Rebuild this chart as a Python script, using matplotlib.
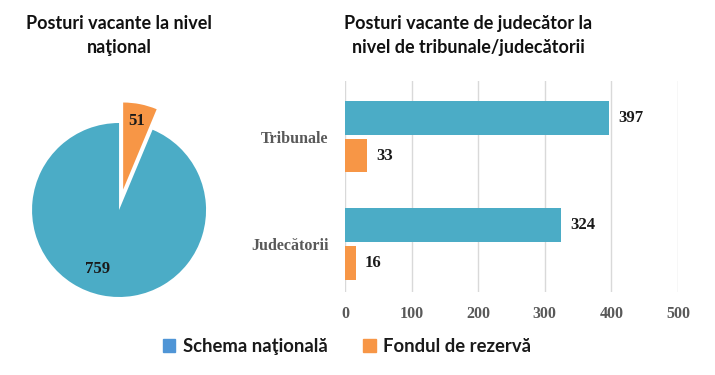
import matplotlib
matplotlib.use("Agg")
import matplotlib.pyplot as plt
from matplotlib.patches import Patch
import numpy as np

# data
pie_labels = ["Schema naţională", "Fondul de rezervă"]
pie_values = [759, 51]
categories = ["Judecătorii", "Tribunale"]
schema_vals = [324, 397]
fond_vals = [16, 33]
x_ticks = [0, 100, 200, 300, 400, 500]

BLUE = "#4BACC6"
ORANGE = "#F79646"
LEG_BLUE = "#4F95D6"
TITLE_FONT = "Lato"
SERIF = "Liberation Serif"

fig = plt.figure(figsize=(7.15, 3.75), dpi=100)
fig.patch.set_facecolor("white")

# ---- pie ----
axp = fig.add_axes([0.0448, 0.208, 0.2434, 0.464])
wedges, _ = axp.pie(pie_values, colors=[BLUE, ORANGE], startangle=90,
                    counterclock=True, explode=[0, 0.24], radius=1,
                    wedgeprops=dict(edgecolor="none"))
axp.set_xlim(-1, 1)
axp.set_ylim(-1, 1)
axp.set_aspect("equal")
axp.axis("off")
for w in wedges:
    w.set_clip_on(False)
for w, v, d, da in zip(wedges, pie_values, [0.72, 0.80], [-9, 0]):
    ang = np.deg2rad((w.theta1 + w.theta2) / 2 + da)
    cx, cy = w.center
    axp.text(cx + d * np.cos(ang), cy + d * np.sin(ang), str(v),
             ha="center", va="center", fontsize=12, fontweight="bold",
             family=SERIF, color="#1a1a1a")

fig.text(0.167, 0.905, "Posturi vacante la nivel\nnaţional", ha="center",
         va="center", fontsize=13, fontweight="bold", family=TITLE_FONT,
         linespacing=1.45, color="#111111")

# ---- bars ----
axb = fig.add_axes([0.4825, 0.221, 0.4657, 0.563])
y = np.arange(len(categories))
off = 0.176
h = 0.315
axb.barh(y + off, schema_vals, height=h, color=BLUE, zorder=3)
axb.barh(y - off, fond_vals, height=h, color=ORANGE, zorder=3)
for yi, v in zip(y, schema_vals):
    axb.text(v + 14, yi + off, str(v), va="center", ha="left", fontsize=12,
             fontweight="bold", family=SERIF, color="#1a1a1a")
for yi, v in zip(y, fond_vals):
    axb.text(v + 14, yi - off, str(v), va="center", ha="left", fontsize=12,
             fontweight="bold", family=SERIF, color="#1a1a1a")
axb.set_xlim(0, 500)
axb.set_ylim(-0.45, 1.52)
axb.set_xticks(x_ticks)
axb.set_yticks(y)
axb.set_yticklabels(categories)
for lab in axb.get_xticklabels() + axb.get_yticklabels():
    lab.set_fontfamily(SERIF)
    lab.set_fontweight("bold")
    lab.set_fontsize(11.5)
    lab.set_color("#595959")
axb.tick_params(axis="both", length=0)
axb.tick_params(axis="x", pad=10)
axb.tick_params(axis="y", pad=12)
axb.grid(axis="x", color="#d9d9d9", linewidth=1, zorder=0)
for s in axb.spines.values():
    s.set_visible(False)

fig.text(0.655, 0.905, "Posturi vacante de judecător la\nnivel de tribunale/judecătorii",
         ha="center", va="center", fontsize=13, fontweight="bold",
         family=TITLE_FONT, linespacing=1.45, color="#111111")

# ---- legend ----
handles = [Patch(color=LEG_BLUE, label=pie_labels[0]),
           Patch(color=ORANGE, label=pie_labels[1])]
leg = fig.legend(handles=handles, loc="center", bbox_to_anchor=(0.485, 0.077),
                 ncol=2, frameon=False, handlelength=0.7, handleheight=0.7,
                 handletextpad=0.4, columnspacing=1.9,
                 prop=dict(family=TITLE_FONT, weight="bold", size=13.3))
for t in leg.get_texts():
    t.set_color("#1a1a1a")

fig.savefig("out.png", dpi=100, facecolor="white")
